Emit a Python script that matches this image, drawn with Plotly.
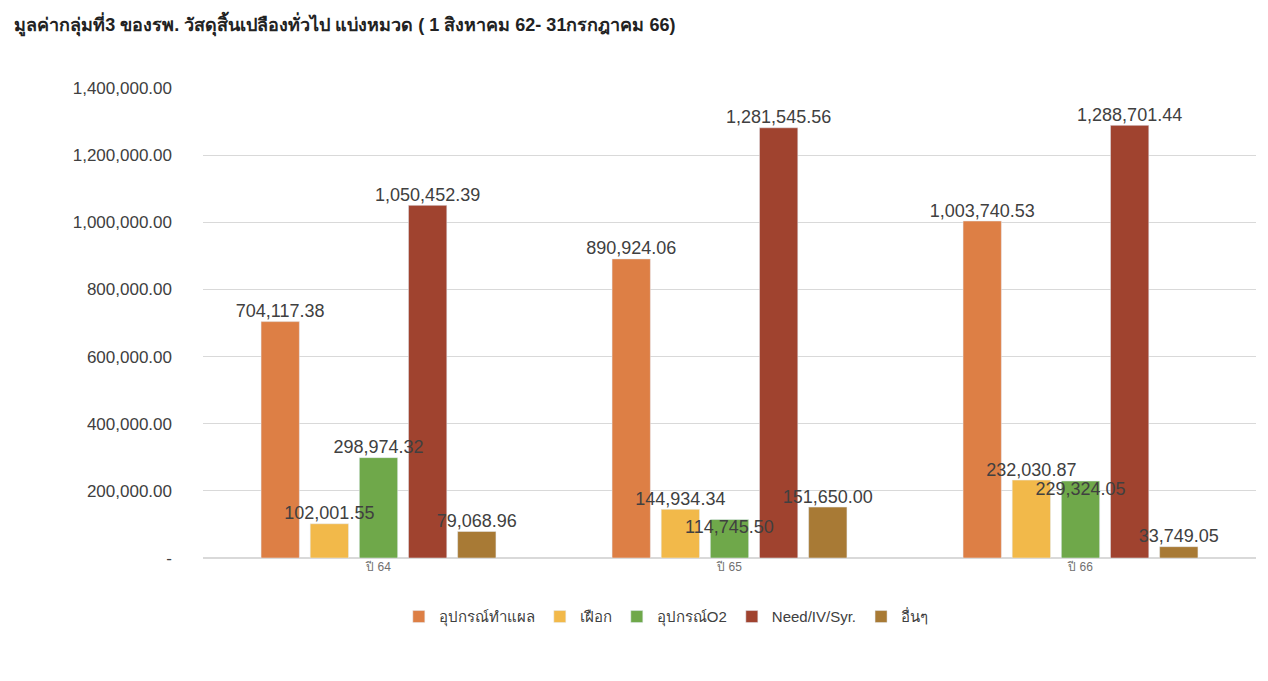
import plotly.graph_objects as go

years = ["ปี 64", "ปี 65", "ปี 66"]
series = ["อุปกรณ์ทำแผล", "เฝือก", "อุปกรณ์O2", "Need/IV/Syr.", "อื่นๆ"]
dressing = [704117.38, 890924.06, 1003740.53]
splint = [102001.55, 144934.34, 232030.87]
oxygen = [298974.32, 114745.50, 229324.05]
needle = [1050452.39, 1281545.56, 1288701.44]
other = [79068.96, 151650.00, 33749.05]
y_ticks = [0, 200000, 400000, 600000, 800000, 1000000, 1200000, 1400000]

colors = ["#DD7F45", "#F2B94A", "#6FA84A", "#A0432F", "#A87A35"]
values = [dressing, splint, oxygen, needle, other]
# where each label sits, so neighbouring labels do not collide
label_pos = [
    ["top center"] * 3,
    ["top center"] * 3,
    ["top center", "bottom center", "bottom center"],
    ["top center"] * 3,
    ["top center"] * 3,
]

GAP = 0.3

fig = go.Figure()
for i, (name, vals, c) in enumerate(zip(series, values, colors)):
    fig.add_trace(go.Bar(x=years, y=vals, name=name, marker_color=c,
                         offsetgroup=str(i)))
# labels as a separate layer so they stay on top of every bar
for i, (vals, pos) in enumerate(zip(values, label_pos)):
    fig.add_trace(go.Scatter(
        x=years, y=vals, mode="text", text=[f"{v:,.2f}" for v in vals],
        textposition=pos, textfont=dict(size=18, color="#404040"),
        offsetgroup=str(i), showlegend=False, cliponaxis=False, hoverinfo="skip",
    ))

tick_text = ["-" if v == 0 else f"{v:,.2f}" for v in y_ticks]

fig.update_layout(
    width=1268, height=681,
    paper_bgcolor="white", plot_bgcolor="white",
    font=dict(family="Liberation Sans, Noto Sans, Noto Sans CJK SC", color="#404040"),
    title=dict(text="<b>มูลค่ากลุ่มที่3 ของรพ. วัสดุสิ้นเปลืองทั่วไป แบ่งหมวด ( 1 สิงหาคม 62- 31กรกฎาคม 66)</b>",
               x=0.005, xanchor="left", y=0.985, yanchor="top",
               font=dict(size=18, color="#222222")),
    barmode="group", bargap=GAP, bargroupgap=0.22,
    scattermode="group", scattergap=GAP,
    margin=dict(l=195, r=20, t=80, b=131),
    legend=dict(orientation="h", x=0.44, xanchor="center", y=-0.09, yanchor="top",
                font=dict(size=15, color="#404040"), traceorder="normal"),
    showlegend=True,
)
fig.update_yaxes(range=[0, 1400000], tickvals=y_ticks, ticktext=tick_text,
                 showgrid=True, gridcolor="#D9D9D9", zeroline=True, zerolinecolor="#D9D9D9",
                 tickfont=dict(size=17, color="#404040"), ticks="", ticklabelstandoff=30)
fig.update_xaxes(tickfont=dict(size=12, color="#707070"), showline=False, ticks="")

fig.write_html("out.html")
